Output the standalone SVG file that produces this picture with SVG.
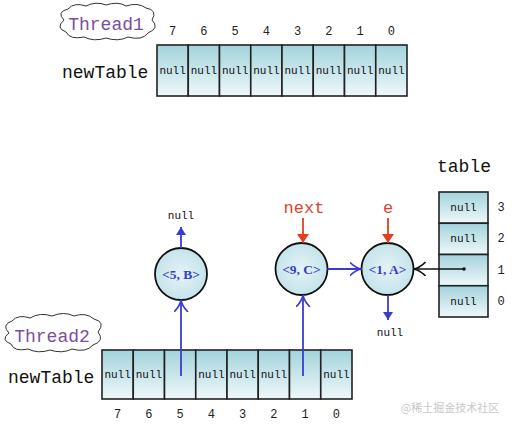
<svg xmlns="http://www.w3.org/2000/svg" width="512" height="426" viewBox="0 0 512 426">
<style>
.cell{stroke:#222;stroke-width:1.6;fill:url(#cg)}
.nl{font-family:"Liberation Mono",monospace;font-size:11px;fill:#111;text-anchor:middle}
.idx{font-family:"Liberation Mono",monospace;font-size:12px;fill:#222;text-anchor:middle}
.big{font-family:"Liberation Mono",monospace;font-size:18px;fill:#111}
.th{font-family:"Liberation Mono",monospace;font-size:18px;fill:#7a4f9e;text-anchor:middle}
.cloud{fill:#fff;stroke:#333;stroke-width:1}
.circ{fill:url(#rg);stroke:#111;stroke-width:1.8}
.ct{font-family:"Liberation Serif",serif;font-size:13.5px;font-weight:bold;fill:#3a3fc0;text-anchor:middle}
.red{font-family:"Liberation Mono",monospace;font-size:17px;fill:#d9472b;text-anchor:middle}
.bl{stroke:#3b3bd0;stroke-width:1.8;fill:none}
.rd{stroke:#e0401c;stroke-width:1.8;fill:none}
.bk{stroke:#111;stroke-width:1.6;fill:none}
</style>
<defs>
<linearGradient id="cg" x1="0" y1="0" x2="0" y2="1">
<stop offset="0" stop-color="#a3d3dc"/>
<stop offset="1" stop-color="#eef8fa"/>
</linearGradient>
<radialGradient id="rg" cx="0.5" cy="0.5" r="0.6">
<stop offset="0" stop-color="#e4f3f7"/>
<stop offset="1" stop-color="#bfe0e8"/>
</radialGradient>
<marker id="fb" markerUnits="userSpaceOnUse" markerWidth="12" markerHeight="12" refX="8" refY="5" orient="auto">
<path d="M0,0 L8,5 L0,10 Z" fill="#3b3bd0"/>
</marker>
<marker id="fr" markerUnits="userSpaceOnUse" markerWidth="12" markerHeight="14" refX="9" refY="6" orient="auto">
<path d="M0,0 L9,6 L0,12 Z" fill="#e0401c"/>
</marker>
<marker id="ob" markerUnits="userSpaceOnUse" markerWidth="14" markerHeight="16" refX="12" refY="7" orient="auto">
<path d="M0,0 Q6,6 12,7 Q6,8 0,14" fill="none" stroke="#3b3bd0" stroke-width="1.6"/>
</marker>
<marker id="ok" markerUnits="userSpaceOnUse" markerWidth="14" markerHeight="16" refX="12" refY="7" orient="auto">
<path d="M0,0 Q6,6 12,7 Q6,8 0,14" fill="none" stroke="#111" stroke-width="1.6"/>
</marker>
</defs>
<rect width="512" height="426" fill="#fff"/>

<g id="thread1">
<path class="cloud" d="M64,20 Q56,12 68,9 Q74,2 86,6 Q96,1 106,5 Q118,1 126,6 Q138,2 146,8 Q158,10 152,20 Q160,28 148,33 Q142,41 128,37 Q118,42 106,38 Q94,42 84,37 Q70,40 66,32 Q55,28 64,20 Z"/>
<text class="th" x="106" y="30">Thread1</text>
</g>

<g id="newTable1">
<text class="big" x="62" y="78">newTable</text>
<rect class="cell" x="157" y="45" width="31.25" height="51"/>
<rect class="cell" x="188.25" y="45" width="31.25" height="51"/>
<rect class="cell" x="219.5" y="45" width="31.25" height="51"/>
<rect class="cell" x="250.75" y="45" width="31.25" height="51"/>
<rect class="cell" x="282" y="45" width="31.25" height="51"/>
<rect class="cell" x="313.25" y="45" width="31.25" height="51"/>
<rect class="cell" x="344.5" y="45" width="31.25" height="51"/>
<rect class="cell" x="375.75" y="45" width="31.25" height="51"/>
<text class="nl" x="172.6" y="74">null</text>
<text class="nl" x="203.9" y="74">null</text>
<text class="nl" x="235.1" y="74">null</text>
<text class="nl" x="266.4" y="74">null</text>
<text class="nl" x="297.6" y="74">null</text>
<text class="nl" x="328.9" y="74">null</text>
<text class="nl" x="360.1" y="74">null</text>
<text class="nl" x="391.4" y="74">null</text>
<text class="idx" x="172.6" y="35">7</text>
<text class="idx" x="203.9" y="35">6</text>
<text class="idx" x="235.1" y="35">5</text>
<text class="idx" x="266.4" y="35">4</text>
<text class="idx" x="297.6" y="35">3</text>
<text class="idx" x="328.9" y="35">2</text>
<text class="idx" x="360.1" y="35">1</text>
<text class="idx" x="391.4" y="35">0</text>
</g>

<g id="table">
<text class="big" x="437" y="172">table</text>
<rect class="cell" x="439" y="192" width="49" height="31.25"/>
<rect class="cell" x="439" y="223.25" width="49" height="31.25"/>
<rect class="cell" x="439" y="254.5" width="49" height="31.25"/>
<rect class="cell" x="439" y="285.75" width="49" height="31.25"/>
<text class="nl" x="463.5" y="211">null</text>
<text class="nl" x="463.5" y="242">null</text>
<circle cx="464" cy="269" r="1.8" fill="#111"/>
<text class="nl" x="463.5" y="305">null</text>
<text class="idx" x="501" y="211">3</text>
<text class="idx" x="501" y="242">2</text>
<text class="idx" x="501" y="274">1</text>
<text class="idx" x="501" y="305">0</text>
</g>

<g id="node5B">
<circle class="circ" cx="181" cy="274" r="26"/>
<text class="ct" x="181" y="278.5">&lt;5, B&gt;</text>
</g>
<g id="node9C">
<circle class="circ" cx="301.5" cy="269" r="26"/>
<text class="ct" x="301.5" y="273.5">&lt;9, C&gt;</text>
</g>
<g id="node1A">
<circle class="circ" cx="387.5" cy="269" r="26"/>
<text class="ct" x="387.5" y="273.5">&lt;1, A&gt;</text>
</g>

<g id="thread2">
<path class="cloud" d="M9,333 Q1,325 12,321 Q18,314 30,318 Q40,312 52,316 Q64,311 74,316 Q86,312 94,319 Q106,322 98,332 Q105,341 93,345 Q86,353 72,349 Q62,354 50,350 Q38,354 28,349 Q14,352 11,344 Q0,340 9,333 Z"/>
<text class="th" x="52" y="342">Thread2</text>
</g>

<g id="newTable2">
<text class="big" x="8" y="383">newTable</text>
<rect class="cell" x="102" y="350" width="31.25" height="49"/>
<rect class="cell" x="133.25" y="350" width="31.25" height="49"/>
<rect class="cell" x="164.5" y="350" width="31.25" height="49"/>
<rect class="cell" x="195.75" y="350" width="31.25" height="49"/>
<rect class="cell" x="227" y="350" width="31.25" height="49"/>
<rect class="cell" x="258.25" y="350" width="31.25" height="49"/>
<rect class="cell" x="289.5" y="350" width="31.25" height="49"/>
<rect class="cell" x="320.75" y="350" width="31.25" height="49"/>
<text class="nl" x="117.6" y="378">null</text>
<text class="nl" x="148.9" y="378">null</text>
<text class="nl" x="211.4" y="378">null</text>
<text class="nl" x="242.6" y="378">null</text>
<text class="nl" x="273.9" y="378">null</text>
<text class="nl" x="336.4" y="378">null</text>
<text class="idx" x="117.6" y="418">7</text>
<text class="idx" x="148.9" y="418">6</text>
<text class="idx" x="180.1" y="418">5</text>
<text class="idx" x="211.4" y="418">4</text>
<text class="idx" x="242.6" y="418">3</text>
<text class="idx" x="273.9" y="418">2</text>
<text class="idx" x="305.1" y="418">1</text>
<text class="idx" x="336.4" y="418">0</text>
</g>

<g id="connectors">
<line class="bl" x1="181" y1="248" x2="181" y2="227" marker-end="url(#fb)"/>
<text class="nl" x="181" y="219">null</text>
<line class="bl" x1="181" y1="376" x2="181" y2="300" marker-end="url(#ob)"/>
<line class="bl" x1="303" y1="376" x2="303" y2="295" marker-end="url(#ob)"/>
<line class="bl" x1="327.5" y1="269" x2="361.5" y2="269" marker-end="url(#ob)"/>
<line class="bk" x1="464" y1="269" x2="413.5" y2="269" marker-end="url(#ok)"/>
<line class="bl" x1="388" y1="295" x2="388" y2="320" marker-end="url(#fb)"/>
<text class="nl" x="390" y="336">null</text>
<text class="red" x="304" y="213">next</text>
<line class="rd" x1="303" y1="218" x2="303" y2="243" marker-end="url(#fr)"/>
<text class="red" x="388" y="213">e</text>
<line class="rd" x1="388" y1="218" x2="388" y2="243" marker-end="url(#fr)"/>
</g>

<text x="450" y="412" font-family="'Noto Sans CJK SC',sans-serif" font-size="11" fill="#c8c8c8" text-anchor="middle">@稀土掘金技术社区</text>
</svg>
